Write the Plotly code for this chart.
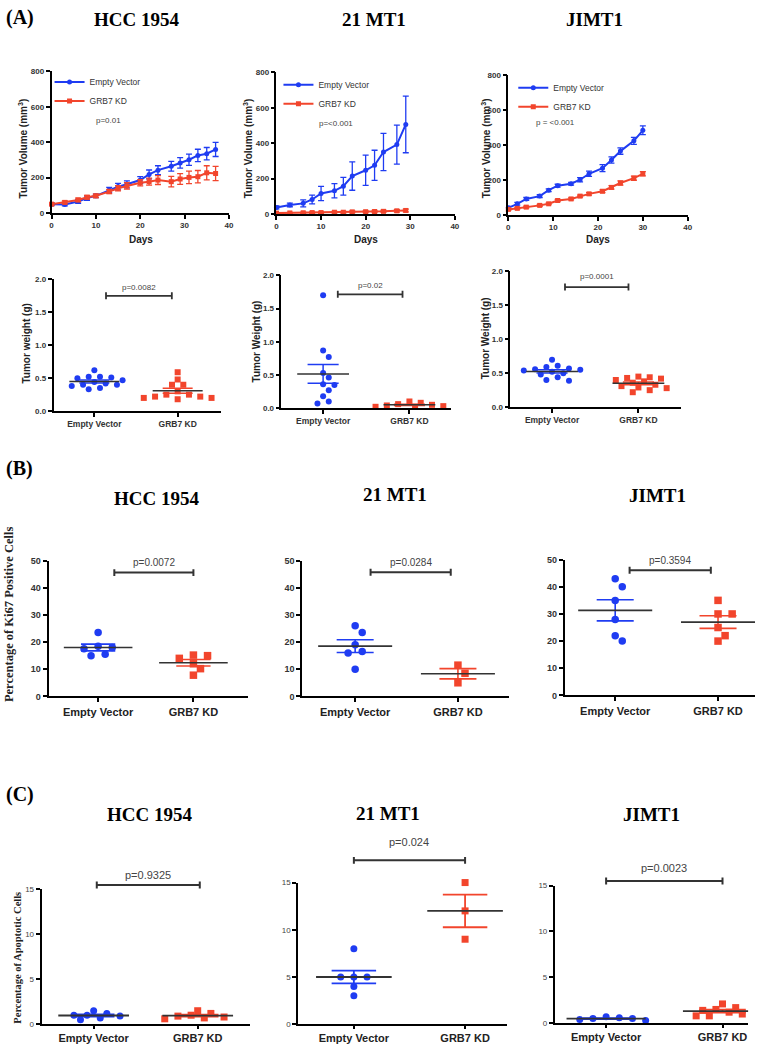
import plotly.graph_objects as go

# ---------------- data ----------------
groups = ["Empty Vector", "GRB7 KD"]

# (A) tumor growth curves
days_hcc = [0, 3, 6, 8, 10, 13, 15, 17, 20, 22, 24, 27, 29, 31, 33, 35, 37]
hcc_ev_vol = [50, 48, 65, 84, 97, 130, 149, 162, 186, 218, 242, 264, 283, 301, 325, 335, 359]
hcc_ev_sem = [8, 8, 10, 12, 10, 15, 18, 20, 20, 25, 25, 28, 30, 32, 35, 35, 40]
hcc_kd_vol = [50, 60, 74, 89, 97, 121, 140, 153, 171, 177, 186, 177, 192, 201, 205, 227, 223]
hcc_kd_sem = [8, 8, 10, 10, 10, 12, 15, 18, 18, 20, 25, 30, 30, 35, 35, 40, 40]

days_mt1 = [0, 3, 6, 8, 10, 13, 15, 17, 20, 22, 24, 27, 29]
mt1_ev_vol = [37, 51, 60, 82, 116, 131, 157, 214, 247, 275, 350, 392, 506]
mt1_ev_sem = [8, 10, 20, 25, 40, 40, 50, 80, 85, 85, 105, 110, 160]
mt1_kd_vol = [5, 6, 7, 8, 8, 10, 10, 12, 13, 14, 15, 18, 20]
mt1_kd_sem = [3, 3, 3, 4, 4, 4, 5, 5, 5, 6, 6, 7, 8]

days_jimt = [0, 2, 4, 7, 9, 11, 14, 16, 18, 21, 23, 25, 28, 30]
jimt_ev_vol = [41, 64, 92, 108, 142, 168, 179, 202, 236, 268, 315, 366, 425, 485]
jimt_ev_sem = [8, 8, 8, 8, 8, 8, 8, 12, 15, 20, 18, 18, 20, 25]
jimt_kd_vol = [32, 38, 45, 55, 64, 83, 92, 108, 121, 136, 158, 183, 211, 236]
jimt_kd_sem = [5, 5, 5, 5, 5, 6, 6, 6, 7, 8, 10, 12, 12, 12]

# (A) tumor weights (g)
w_hcc_ev = [0.62, 0.52, 0.52, 0.51, 0.50, 0.47, 0.44, 0.42, 0.40, 0.40, 0.38, 0.35, 0.33]
w_hcc_kd = [0.59, 0.48, 0.40, 0.40, 0.30, 0.25, 0.22, 0.20, 0.18, 0.20, 0.22, 0.25]
w_mt1_ev = [1.70, 0.87, 0.77, 0.53, 0.46, 0.36, 0.35, 0.27, 0.18, 0.10, 0.07]
w_mt1_kd = [0.10, 0.08, 0.06, 0.05, 0.04, 0.03, 0.02, 0.02]
w_jimt_ev = [0.70, 0.61, 0.59, 0.57, 0.56, 0.55, 0.54, 0.52, 0.50, 0.48, 0.44, 0.40, 0.39]
w_jimt_kd = [0.45, 0.44, 0.43, 0.42, 0.40, 0.38, 0.36, 0.33, 0.31, 0.29, 0.28, 0.25, 0.22]

# (B) Ki67 positive cells (%)
ki_hcc_ev = [23.5, 18.5, 18.0, 17.5, 15.5, 15.0]
ki_hcc_kd = [15.2, 15.0, 14.0, 12.0, 10.2, 7.8]
ki_mt1_ev = [26, 23.5, 19, 16.5, 16, 10]
ki_mt1_kd = [11.5, 8.5, 5.0]
ki_jimt_ev = [43, 40, 35, 28, 22, 20]
ki_jimt_kd = [35, 30, 30, 25, 22, 20]

# (C) apoptotic cells (%)
ap_hcc_ev = [1.5, 1.2, 1.0, 1.0, 0.9, 0.7, 0.5]
ap_hcc_kd = [1.5, 1.2, 1.0, 0.9, 0.8, 0.7, 0.6]
ap_mt1_ev = [8, 5, 5, 5, 4, 3]
ap_mt1_kd = [15, 12, 9]
ap_jimt_ev = [0.7, 0.6, 0.5, 0.5, 0.4, 0.3]
ap_jimt_kd = [2.1, 1.7, 1.5, 1.4, 1.2, 1.0, 0.8, 0.8]

p_growth = ["p=0.01", "p=<0.001", "p = <0.001"]
p_weight = ["p=0.0082", "p=0.02", "p=0.0001"]
p_ki67 = ["p=0.0072", "p=0.0284", "p=0.3594"]
p_apop = ["p=0.9325", "p=0.024", "p=0.0023"]
cell_lines = ["HCC 1954", "21 MT1", "JIMT1"]

# ---------------- layout constants ----------------
W, H = 766, 1050
BLUE = "#1f3cf2"
RED = "#f2452c"
DARK = "#333333"
SANS = "Liberation Sans, Arial, sans-serif"
SERIF = "Liberation Serif, Times New Roman, serif"

P = {
    'A1': dict(i=1, box=(50, 67, 229, 210), xr=(0, 40), yr=(0, 800)),
    'A2': dict(i=2, box=(277, 68, 457, 211), xr=(0, 40), yr=(0, 800)),
    'A3': dict(i=3, box=(511, 71, 692, 212), xr=(0, 40), yr=(0, 800)),
    'W1': dict(i=4, box=(52, 277, 221, 410), xr=(-0.49, 1.52), yr=(0, 2)),
    'W2': dict(i=5, box=(282, 273, 453, 407), xr=(-0.483, 1.48), yr=(0, 2)),
    'W3': dict(i=6, box=(513, 269, 685, 406), xr=(-0.483, 1.49), yr=(0, 2)),
    'B1': dict(i=7, box=(47, 561, 248, 698), xr=(-0.52, 1.57), yr=(0, 50)),
    'B2': dict(i=8, box=(303, 561, 512, 698), xr=(-0.515, 1.5), yr=(0, 50)),
    'B3': dict(i=9, box=(568, 560, 760, 697), xr=(-0.49, 1.36), yr=(0, 50)),
    'C1': dict(i=10, box=(40, 893, 250, 1029), xr=(-0.5, 1.5), yr=(0, 15)),
    'C2': dict(i=11, box=(299, 886, 510, 1029), xr=(-0.5, 1.38), yr=(0, 15)),
    'C3': dict(i=12, box=(558, 889, 753, 1028), xr=(-0.44, 1.22), yr=(0, 15)),
}


def ids(p):
    i = p['i']
    s = '' if i == 1 else str(i)
    return 'x' + s, 'y' + s, 'xaxis' + s, 'yaxis' + s


def to_paper(p, xv, yv):
    l, t, r, b = p['box']
    x0, x1 = p['xr']
    y0, y1 = p['yr']
    px = l + (xv - x0) / (x1 - x0) * (r - l)
    py = b - (yv - y0) / (y1 - y0) * (b - t)
    return px / W, 1 - py / H


fig = go.Figure()
layout = dict(width=W, height=H, margin=dict(l=0, r=0, t=0, b=0),
              paper_bgcolor='white', plot_bgcolor='white', showlegend=True)
annotations = []
shapes = []


def ann(xpx, ypx, text, size, family=SANS, weight='normal', color='#222', angle=0, xanchor='center'):
    annotations.append(dict(x=xpx / W, y=1 - ypx / H, xref='paper', yref='paper', text=text,
                            showarrow=False, textangle=angle, xanchor=xanchor, yanchor='middle',
                            font=dict(size=size, family=family, weight=weight, color=color)))


def setup_axes(p, xtv, xtt, ytv, tickfont, xfont, lw, yfmt=None, xticklen=4):
    l, t, r, b = p['box']
    xa, ya, xk, yk = ids(p)
    base = dict(showline=True, linecolor='black', linewidth=lw, ticks='outside', ticklen=4,
                tickwidth=lw, tickcolor='black', showgrid=False, zeroline=False, fixedrange=True)
    layout[xk] = dict(base, domain=[l / W, r / W], range=list(p['xr']), anchor=ya,
                      tickvals=xtv, ticktext=xtt, tickfont=xfont, ticklen=xticklen)
    layout[yk] = dict(base, domain=[1 - b / H, 1 - t / H], range=list(p['yr']), anchor=xa,
                      tickvals=ytv, tickfont=tickfont)
    if yfmt:
        layout[yk]['tickformat'] = yfmt


def swarm(vals, p, size):
    l, t, r, b = p['box']
    sx = (r - l) / (p['xr'][1] - p['xr'][0])
    sy = (b - t) / (p['yr'][1] - p['yr'][0])
    step = size * 0.95
    cands = [0.0]
    for j in range(1, 12):
        cands += [j * step, -j * step]
    order = sorted(range(len(vals)), key=lambda k: -vals[k])
    placed = []
    res = [0.0] * len(vals)
    for k in order:
        ypx = vals[k] * sy
        chosen = cands[-1]
        for c in cands:
            if all((c - a) ** 2 + (ypx - bb) ** 2 >= (size + 0.8) ** 2 for a, bb in placed):
                chosen = c
                break
        placed.append((chosen, ypx))
        res[k] = chosen / sx
    return res


def mean_sem(v):
    n = len(v)
    m = sum(v) / n
    sd = (sum((x - m) ** 2 for x in v) / (n - 1)) ** 0.5
    return m, sd / n ** 0.5


def dot_panel(p, ev, kd, size, mw, sw, lw):
    xa, ya, _, _ = ids(p)
    for ci, (vals, col, sym) in enumerate([(ev, BLUE, 'circle'), (kd, RED, 'square')]):
        offs = swarm(vals, p, size)
        fig.add_trace(go.Scatter(x=[ci + o for o in offs], y=vals, mode='markers', xaxis=xa, yaxis=ya,
                                 marker=dict(symbol=sym, size=size, color=col, line=dict(width=0)),
                                 cliponaxis=False, showlegend=False, hoverinfo='skip'))
        m, s = mean_sem(vals)
        fig.add_trace(go.Scatter(x=[ci - sw, ci + sw, None, ci - sw, ci + sw, None, ci, ci],
                                 y=[m + s, m + s, None, m - s, m - s, None, m - s, m + s],
                                 mode='lines', line=dict(color=col, width=lw), xaxis=xa, yaxis=ya,
                                 showlegend=False, hoverinfo='skip'))
        fig.add_trace(go.Scatter(x=[ci - mw, ci + mw], y=[m, m], mode='lines',
                                 line=dict(color=DARK, width=lw), xaxis=xa, yaxis=ya,
                                 showlegend=False, hoverinfo='skip'))


def bracket(p, x0, x1, yv, ytext, text, fsize, lw=2):
    ax0, ay = to_paper(p, x0, yv)
    ax1, _ = to_paper(p, x1, yv)
    cap = 3.5 / H
    path = (f"M {ax0},{ay} L {ax1},{ay} M {ax0},{ay - cap} L {ax0},{ay + cap} "
            f"M {ax1},{ay - cap} L {ax1},{ay + cap}")
    shapes.append(dict(type='path', path=path, xref='paper', yref='paper',
                       line=dict(color=DARK, width=lw)))
    tx, ty = to_paper(p, (x0 + x1) / 2, ytext)
    annotations.append(dict(x=tx, y=ty, xref='paper', yref='paper', text=text, showarrow=False,
                            xanchor='center', yanchor='middle',
                            font=dict(size=fsize, family=SANS, color='#444')))


# ---------------- (A) growth curves ----------------
growth = [
    (P['A1'], days_hcc, hcc_ev_vol, hcc_ev_sem, hcc_kd_vol, hcc_kd_sem, 'legend'),
    (P['A2'], days_mt1, mt1_ev_vol, mt1_ev_sem, mt1_kd_vol, mt1_kd_sem, 'legend2'),
    (P['A3'], days_jimt, jimt_ev_vol, jimt_ev_sem, jimt_kd_vol, jimt_kd_sem, 'legend3'),
]
tick_a = dict(size=8, family=SANS, color='#333', weight='bold')
for p, d, ev, evs, kd, kds, lg in growth:
    xa, ya, _, _ = ids(p)
    for name, v, s, col, sym in [(groups[0], ev, evs, BLUE, 'circle'), (groups[1], kd, kds, RED, 'square')]:
        fig.add_trace(go.Scatter(x=d, y=v, mode='lines+markers', name=name, legend=lg,
                                 xaxis=xa, yaxis=ya, cliponaxis=False,
                                 line=dict(color=col, width=2),
                                 marker=dict(symbol=sym, size=5, color=col),
                                 error_y=dict(type='data', array=s, visible=True, color=col,
                                              thickness=1.3, width=3)))
    setup_axes(p, [0, 10, 20, 30, 40], ['0', '10', '20', '30', '40'], [0, 200, 400, 600, 800],
               tick_a, tick_a, 1.5)

legend_common = dict(xanchor='left', yanchor='top', bgcolor='rgba(0,0,0,0)', borderwidth=0,
                     itemwidth=30, tracegroupgap=0,
                     font=dict(size=8.5, family=SANS, color='#333'))
layout['legend'] = dict(legend_common, x=48 / W, y=1 - 63 / H)
layout['legend2'] = dict(legend_common, x=279 / W, y=1 - 66 / H)
layout['legend3'] = dict(legend_common, x=516 / W, y=1 - 69 / H)

ann(107, 117, p_growth[0], 8, color='#444')
ann(337, 120, p_growth[1], 8, color='#444')
ann(559, 119, p_growth[2], 8, color='#444')

for xc in (140, 367, 601):
    ann(xc, 237, 'Days', 10, weight='bold')
for xc in (21, 248, 488):
    ann(xc, 145, 'Tumor Volume (mm<sup>3</sup>)', 10, weight='bold', angle=-90)

# ---------------- (A) tumor weights ----------------
cat_a = dict(size=8.5, family=SANS, color='#333', weight='bold')
weights = [(P['W1'], w_hcc_ev, w_hcc_kd, 0.14, 0.93, 1.75, 1.88),
           (P['W2'], w_mt1_ev, w_mt1_kd, 0.17, 0.92, 1.715, 1.85),
           (P['W3'], w_jimt_ev, w_jimt_kd, 0.15, 0.885, 1.77, 1.93)]
for k, (p, ev, kd, bx0, bx1, by, ty) in enumerate(weights):
    dot_panel(p, ev, kd, 6, 0.3, 0.18, 1.5)
    setup_axes(p, [0, 1], groups, [0, 0.5, 1, 1.5, 2], tick_a, cat_a, 1.5, yfmt='.1f')
    bracket(p, bx0, bx1, by, ty, p_weight[k], 8, lw=1.8)
ann(25, 342, 'Tumor weight (g)', 10, weight='bold', angle=-90)
ann(257, 340, 'Tumor Weight (g)', 10, weight='bold', angle=-90)
ann(488, 337, 'Tumor Weight (g)', 10, weight='bold', angle=-90)

# ---------------- (B) Ki67 ----------------
tick_b = dict(size=9, family=SANS, color='#333', weight='bold')
cat_b = dict(size=11, family=SANS, color='#222', weight='bold')
kis = [(P['B1'], ki_hcc_ev, ki_hcc_kd, 0.17, 1.0, 45.6, 49.2),
       (P['B2'], ki_mt1_ev, ki_mt1_kd, 0.15, 0.93, 45.7, 49.2),
       (P['B3'], ki_jimt_ev, ki_jimt_kd, 0.14, 0.93, 46.1, 49.6)]
for k, (p, ev, kd, bx0, bx1, by, ty) in enumerate(kis):
    dot_panel(p, ev, kd, 7.5, 0.36, 0.18, 1.6)
    setup_axes(p, [0, 1], groups, [0, 10, 20, 30, 40, 50], tick_b, cat_b, 2)
    bracket(p, bx0, bx1, by, ty, p_ki67[k], 10)
ann(7, 615, 'Percentage of Ki67 Positive Cells', 12.5, family=SERIF, weight='bold', angle=-90)

# ---------------- (C) apoptosis ----------------
tick_c = dict(size=8, family=SANS, color='#444')
cat_c = dict(size=11, family=SANS, color='#222', weight='bold')
aps = [(P['C1'], ap_hcc_ev, ap_hcc_kd, 0.03, 1.02, 15.5, 16.6),
       (P['C2'], ap_mt1_ev, ap_mt1_kd, 0.0, 1.0, 17.35, 19.3),
       (P['C3'], ap_jimt_ev, ap_jimt_kd, 0.0, 1.0, 15.5, 16.9)]
for k, (p, ev, kd, bx0, bx1, by, ty) in enumerate(aps):
    dot_panel(p, ev, kd, 7, 0.34, 0.2, 1.8)
    setup_axes(p, [0, 1], groups, [0, 5, 10, 15], tick_c, cat_c, 2, xticklen=3)
    bracket(p, bx0, bx1, by, ty, p_apop[k], 11)
ann(16, 962, 'Percentage of Apoptotic Cells', 10.5, family=SERIF, weight='bold', angle=-90)

# ---------------- titles ----------------
ann(18, 13, '(A)', 20, family=SERIF, weight='bold', color='black')
ann(18, 468, '(B)', 20, family=SERIF, weight='bold', color='black')
ann(18, 797, '(C)', 20, family=SERIF, weight='bold', color='black')
for (xc, yc), name in zip([(136, 15), (375, 15), (598, 15)], cell_lines):
    ann(xc, yc, name, 19, family=SERIF, weight='bold', color='black')
for (xc, yc), name in zip([(156, 498), (397, 494), (662, 495)], cell_lines):
    ann(xc, yc, name, 19, family=SERIF, weight='bold', color='black')
for (xc, yc), name in zip([(149, 817), (390, 816), (655, 817)], cell_lines):
    ann(xc, yc, name, 19, family=SERIF, weight='bold', color='black')

layout['annotations'] = annotations
layout['shapes'] = shapes
fig.update_layout(**layout)
fig.write_html("out.html", config=dict(displayModeBar=False),
               post_script="document.body.style.margin='0';")
